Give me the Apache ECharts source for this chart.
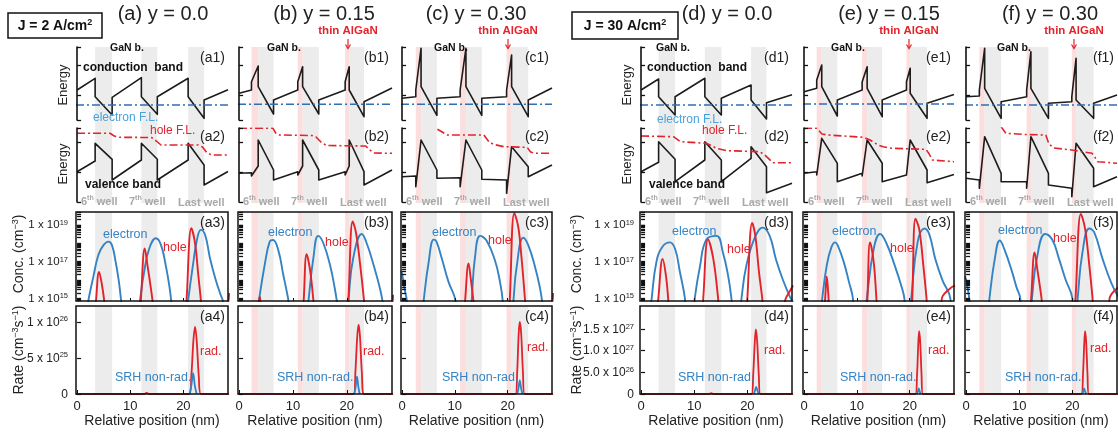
<!DOCTYPE html>
<html><head><meta charset="utf-8">
<script src="https://cdn.jsdelivr.net/npm/echarts@6/dist/echarts.min.js"></script>
<style>html,body{margin:0;padding:0;background:#fff}#c{width:1118px;height:433px}</style>
</head><body><div id="c"></div>
<script>
// ================= DATA =================
const panelIds = ['a','b','c','d','e','f'];
const panelTitles = ['(a) y = 0.0','(b) y = 0.15','(c) y = 0.30','(d) y = 0.0','(e) y = 0.15','(f) y = 0.30'];
const xTicks = [0,10,20];
const concLabelExp = [15,17,19];
const concLabels = ['1 x 10^{15}','1 x 10^{17}','1 x 10^{19}'];
const rateTicksL = [0,5e25,1e26];
const rateLabelsL = ['0','5 x 10^{25}','1 x 10^{26}'];
const rateTicksR = [0,5e26,1e27,1.5e27];
const rateLabelsR = ['0','5.0 x 10^{26}','1.0 x 10^{27}','1.5 x 10^{27}'];
const energyTicks1 = [0,25,55,73];
const energyTicks2 = [0,30,60,74];

// background layers (nm)
const gray_a=[[3.4,6.6],[12.1,15.1],[20.9,23.9]], pink_a=[];
const gray_b=[[3.55,6.4],[11.8,14.8],[20.45,23.2]], pink_b=[[2.3,3.55],[10.9,11.8],[19.7,20.45]];
const gray_c=[[3.6,6.6],[12.1,15.1],[20.75,23.9]], pink_c=[[2.6,3.6],[11.0,12.1],[19.8,20.75]];
const gray_d=[[3.3,6.4],[12.0,15.1],[20.7,23.6]], pink_d=[];
const gray_e=[[3.35,6.3],[11.95,14.8],[20.1,23.3]], pink_e=[[2.4,3.35],[11.0,11.95],[19.4,20.1]];
const gray_f=[[3.5,6.6],[12.2,15.5],[20.7,24.0]], pink_f=[[2.5,3.5],[11.4,12.2],[19.9,20.7]];

// conduction band (a.u.), electron quasi-Fermi level
const cb_a=[[0,30],[3.4,41.7],[3.4,23.3],[6.6,5],[6.6,22.7],[12.1,42.3],[12.1,23.3],[15.1,5.7],[15.1,23.3],[20.9,41.7],[20.9,23.3],[23.9,1.7],[23.9,20],[28.4,30.3]];
const cb_b=[[0,26.7],[2.3,30],[2.3,38.3],[3.55,54],[3.55,33.3],[6.4,6],[6.4,20],[10.9,30],[10.9,38.3],[11.8,53.3],[11.8,33.3],[14.8,6],[14.8,20],[19.7,30],[19.7,38.3],[20.45,53.3],[20.45,30],[23.2,3.3],[23.2,18.3],[28.4,32]];
const cb_c=[[0,21.7],[2.6,23.3],[2.6,30],[3.6,71.7],[3.6,33.3],[6.6,4.7],[6.6,21.7],[11.0,23.3],[11.0,30],[12.1,71.7],[12.1,33.3],[15.1,4.7],[15.1,21.7],[19.8,23.3],[19.8,30],[20.75,65],[20.75,33.3],[23.9,3.3],[23.9,20],[28.4,32]];
const cb_d=[[0,30],[3.3,41],[3.3,23.3],[6.4,5],[6.4,23.3],[12.0,41.7],[12.0,23.3],[15.1,5],[15.1,21.7],[20.7,35],[20.7,20],[23.6,1],[23.6,17.3],[28.4,25.3]];
const cb_e=[[0,28.3],[2.4,31.7],[2.4,40],[3.35,55],[3.35,33.3],[6.3,4],[6.3,20],[11.0,30],[11.0,38],[11.95,53.3],[11.95,31.7],[14.8,3.3],[14.8,20],[19.4,30],[19.4,38.3],[20.1,51.7],[20.1,26.7],[23.3,1.7],[23.3,16.7],[28.4,25.5]];
const cb_f=[[0,23.3],[2.5,24],[2.5,30],[3.5,71.7],[3.5,31.7],[6.6,1.7],[6.6,18.3],[11.4,23.3],[11.4,30],[12.2,68.3],[12.2,31.7],[15.5,1.7],[15.5,16.7],[19.9,18.3],[19.9,23.3],[20.7,61.7],[20.7,20],[24.0,1.7],[24.0,16.7],[28.4,25]];
const efl_a=15, efl_b=15.7, efl_c=15.7, efl_d=15, efl_e=16, efl_f=15;

// valence band (a.u.), hole quasi-Fermi level
const vb_a=[[0,30.3],[3.4,41],[3.4,58.7],[6.6,42.7],[6.6,22],[12.1,42],[12.1,58.7],[15.1,42.7],[15.1,22],[20.9,42],[20.9,58.7],[23.9,37],[23.9,17],[28.4,30.5]];
const vb_b=[[0,28.7],[2.3,29.3],[2.3,26],[3.55,36],[3.55,62],[6.4,32],[6.4,22],[10.9,30.3],[10.9,27],[11.8,36],[11.8,62],[14.8,32],[14.8,22],[19.7,30.3],[19.7,27],[20.45,36],[20.45,62],[23.2,30.3],[23.2,17],[28.4,32]];
const vb_c=[[0,25.3],[2.6,26],[2.6,15.3],[3.6,62],[6.6,32],[6.6,23.7],[11.0,24.3],[11.0,15.3],[12.1,62],[15.1,32],[15.1,22.7],[19.8,22],[19.8,8.7],[20.75,55.3],[23.9,35.3],[23.9,25.3],[28.4,37]];
const vb_d=[[0,30.3],[3.3,39.7],[3.3,60.3],[6.4,42.7],[6.4,20.3],[12.0,42],[12.0,60.3],[15.1,42],[15.1,20.3],[20.7,43.7],[20.7,55.3],[23.6,35.3],[23.6,9.3],[28.4,18.7]];
const vb_e=[[0,28.7],[2.4,30.3],[2.4,27],[3.35,63.7],[6.3,38.7],[6.3,20.3],[11.0,28.7],[11.0,26],[11.95,62],[14.8,38.7],[14.8,20.3],[19.4,27],[19.4,25],[20.1,62],[23.3,32],[23.3,19.3],[28.4,27.5]];
const vb_f=[[0,23.7],[2.5,22],[2.5,13.7],[3.5,65.3],[6.6,28.7],[6.6,20.3],[11.4,20.3],[11.4,13.7],[12.2,65.3],[15.5,28.7],[15.5,17],[19.9,13.7],[19.9,5.3],[20.7,58.7],[24.0,33.7],[24.0,15.3],[28.4,25.3]];
const hfl_a=[[0,68.7],[6.2,68.7],[7.0,66],[8.0,64.7],[14.0,64.5],[14.9,61],[15.8,57],[22.8,57],[23.6,55],[24.4,49.5],[25.3,47],[28.4,47]];
const hfl_b=[[0,73.7],[6.3,73.7],[6.8,69],[7.5,67],[13.5,66.5],[14.3,65],[15.2,60],[16.2,56.5],[23.5,56],[24.3,52],[25.0,49],[28.4,48.7]];
const hfl_c=[[6.7,72.7],[8.6,67],[15.5,67],[16.5,60],[17.4,57.5],[19.3,55.3],[23.7,54.7],[24.3,50.3],[25.0,48.7],[28.4,48.7]];
const hfl_d=[[0,66],[6.1,65.3],[7.4,60.3],[12.3,58.7],[14.2,53.7],[16.1,51.3],[22.3,50.3],[23.3,47],[24.8,39.3],[28.4,39.3]];
const hfl_e=[[0,73.7],[2.4,73.7],[3.4,68],[4.5,67],[11.3,64.7],[12.5,62],[14.0,57],[15.0,55.3],[16.6,53.7],[23.1,52.7],[23.7,48],[24.3,42],[28.4,40.3]];
const hfl_f=[[6.6,75.3],[7.5,68.7],[11.0,67.5],[15.0,67],[15.6,58],[16.5,54],[19.9,52],[23.7,48.7],[24.2,45],[24.8,40.3],[28.4,38.7]];

// carrier concentration, log10(n / cm^-3)
const elec_a=[[2.0,14.5],[2.2,15],[3.06,16.17],[4.0,17.36],[4.97,17.9],[5.92,18.09],[6.56,17.9],[7.2,17.08],[7.83,15.99],[8.28,14.9],[8.4,14.5],[11.7,14.5],[11.85,14.9],[12.6,16.4],[13.57,17.7],[14.84,18.27],[15.8,17.9],[16.75,16.7],[17.4,15.6],[17.7,14.9],[17.8,14.5],[20.8,14.5],[20.9,14.9],[21.85,16.9],[22.5,18.1],[23.3,18.73],[24.1,18.45],[25.0,17.2],[26.0,16.1],[27.0,15.2],[27.4,14.9],[27.5,14.5]];
const hole_a=[[3.5,14.5],[3.57,14.9],[4.14,16.44],[4.65,15.8],[5.1,14.9],[5.2,14.5],[11.9,14.5],[12.0,14.9],[12.74,17.72],[13.25,16.8],[14.2,14.9],[14.3,14.5],[20.5,14.5],[20.6,14.9],[21.5,18.82],[22.2,18.0],[22.8,16.3],[23.3,14.9],[23.4,14.5],[28.0,14.6],[28.6,15.3]];
const elec_b=[[3.6,14.5],[3.7,14.9],[4.8,16.9],[5.7,18.1],[6.3,18.18],[7.3,17.6],[8.2,16.3],[9.1,15.0],[9.3,14.5],[12.8,14.5],[12.9,14.9],[13.8,17.2],[14.7,18.4],[15.65,18.0],[16.9,16.8],[17.8,15.5],[18.3,14.6],[18.4,14.5],[20.2,14.5],[20.3,14.9],[21.2,17.2],[22.8,18.5],[23.7,18.0],[25.0,16.8],[26.2,15.5],[26.8,14.6],[26.9,14.5]];
const hole_b=[[3.5,14.5],[3.85,15.1],[4.2,14.5],[11.9,14.5],[12.0,14.9],[12.55,17.4],[13.2,16.5],[13.8,14.9],[13.9,14.5],[20.2,14.5],[20.3,14.9],[21.1,19.18],[21.7,18.6],[22.5,16.8],[23.2,14.9],[23.3,14.5],[28.0,14.6],[28.6,15.2]];
const elec_c=[[-0.2,16.5],[0,16.35],[0.5,15.5],[0.9,14.9],[1.0,14.5],[4.0,14.5],[4.1,14.9],[5.0,16.9],[6.0,18.2],[6.5,18.1],[7.5,17.2],[8.8,15.9],[10.1,14.9],[10.2,14.5],[13.1,14.5],[13.2,14.9],[13.8,17.2],[14.8,18.4],[16.0,18.15],[17.6,17.06],[18.55,15.9],[19.05,14.9],[19.1,14.5],[21.0,14.5],[21.1,14.9],[21.7,16.7],[22.96,18.3],[23.9,17.9],[25.2,16.7],[26.1,15.6],[26.5,14.9],[26.6,14.5]];
const hole_c=[[11.9,14.5],[11.95,14.9],[12.6,16.9],[13.0,16.1],[13.5,14.9],[13.6,14.5],[20.3,14.5],[20.4,14.9],[21.26,19.64],[22.0,18.9],[22.6,17.3],[23.3,14.9],[23.4,14.5],[28.0,14.6],[28.6,15.3]];
const elec_d=[[1.9,14.5],[2.0,15.0],[2.9,17.0],[4.0,17.8],[5.4,18.05],[6.4,17.7],[7.3,16.45],[8.25,15.0],[8.35,14.5],[10.0,14.5],[10.1,15.0],[11.1,16.77],[12.3,18.2],[14.2,18.4],[15.4,17.5],[16.4,16.2],[17.0,15.0],[17.1,14.5],[18.8,14.5],[18.9,15.0],[19.8,16.77],[21.4,18.3],[22.9,18.85],[24.2,18.4],[25.4,17.1],[26.7,16.0],[28.0,15.1],[28.6,14.8]];
const hole_d=[[3.1,14.5],[3.25,15.0],[4.06,17.14],[4.7,16.2],[5.1,15.0],[5.2,14.5],[11.6,14.5],[11.7,15.0],[12.6,18.21],[13.6,17.14],[14.5,15.0],[14.6,14.5],[19.9,14.5],[20.0,15.0],[20.9,19.1],[21.5,18.4],[22.2,16.4],[22.8,15.0],[22.9,14.5],[26.4,14.6],[27.4,15.1],[28.6,15.7]];
const elec_e=[[3.3,14.5],[3.4,14.9],[4.3,16.8],[5.2,17.8],[5.9,18.05],[6.4,17.87],[7.5,17.0],[8.5,15.9],[9.25,15.0],[9.35,14.5],[11.8,14.5],[11.9,15.0],[13.2,17.7],[14.4,18.5],[15.6,18.0],[17.2,16.77],[18.4,15.7],[19.0,15.0],[19.1,14.5],[20.2,14.5],[20.3,15.0],[21.5,18.05],[22.8,18.8],[23.7,18.5],[24.9,17.1],[26.2,16.0],[27.7,15.0],[27.8,14.5]];
const hole_e=[[3.9,14.5],[4.0,15.0],[4.3,16.2],[4.6,15.2],[4.8,14.5],[11.9,14.5],[12.0,15.0],[12.5,18.05],[13.2,16.95],[13.7,15.0],[13.8,14.5],[20.4,14.5],[20.5,15.0],[21.1,19.33],[21.8,18.78],[22.6,16.77],[23.2,15.0],[23.3,14.5],[26.0,14.6],[26.1,15.0],[27.9,15.6],[28.6,15.7]];
const elec_f=[[-0.2,16.2],[0,16.04],[0.6,15.0],[0.7,14.5],[4.3,14.5],[4.4,15.0],[5.4,17.14],[6.35,18.15],[7.3,17.6],[8.6,16.5],[9.5,15.6],[10.2,15.0],[10.3,14.5],[12.3,14.5],[12.4,15.0],[13.3,17.14],[14.9,18.5],[16.2,18.2],[17.5,17.14],[18.7,16.04],[20.0,15.0],[20.1,14.5],[20.9,14.5],[21.0,15.0],[21.9,17.5],[23.2,18.8],[24.1,18.6],[25.7,17.14],[27.3,15.86],[28.6,15.1]];
const hole_f=[[12.1,14.5],[12.25,15.0],[12.9,17.5],[13.5,16.4],[14.2,15.0],[14.3,14.5],[20.5,14.5],[20.6,15.0],[21.6,19.6],[22.4,18.78],[23.2,16.77],[23.8,15.0],[23.9,14.5],[26.9,14.5],[27.0,15.0],[28.6,15.6]];

// recombination rates (cm^-3 s^-1)
const rad_a=[[-0.2,0],[12.6,0],[13.1,0.15e25],[13.6,0],[21.1,0],[21.5,2.5e25],[21.9,7.5e25],[22.2,9.35e25],[22.5,7.5e25],[22.9,2.5e25],[23.3,0],[28.6,0]];
const srh_a=[[21.2,0],[21.5,1.2e25],[21.85,2.9e25],[22.15,1.2e25],[22.5,0]];
const rad_b=[[-0.2,0],[21.3,0],[21.6,3e25],[21.95,8e25],[22.2,9.6e25],[22.45,8e25],[22.8,3e25],[23.2,0],[28.6,0]];
const srh_b=[[21.4,0],[21.65,1e25],[21.9,2.4e25],[22.15,1e25],[22.4,0]];
const rad_c=[[-0.2,0],[21.5,0],[21.8,3e25],[22.1,8.5e25],[22.3,1.0e26],[22.55,8.5e25],[22.9,3e25],[23.2,0],[28.6,0]];
const srh_c=[[21.8,0],[22.05,0.8e25],[22.3,1.9e25],[22.55,0.8e25],[22.8,0]];
const rad_d=[[-0.2,0],[12.8,0],[13.2,0.02e27],[13.6,0],[20.8,0],[21.1,0.45e27],[21.4,1.2e27],[21.6,1.49e27],[21.85,1.2e27],[22.15,0.45e27],[22.45,0],[28.6,0]];
const srh_d=[[21.2,0],[21.45,0.08e27],[21.65,0.166e27],[21.9,0.08e27],[22.15,0]];
const rad_e=[[-0.2,0],[21.1,0],[21.4,0.45e27],[21.65,1.2e27],[21.8,1.45e27],[22.0,1.2e27],[22.25,0.45e27],[22.5,0],[28.6,0]];
const srh_e=[[21.35,0],[21.55,0.06e27],[21.7,0.13e27],[21.9,0.06e27],[22.1,0]];
const rad_f=[[-0.2,0],[21.7,0],[22.0,0.45e27],[22.25,1.2e27],[22.4,1.45e27],[22.6,1.2e27],[22.85,0.45e27],[23.1,0],[28.6,0]];
const srh_f=[[21.85,0],[22.05,0.06e27],[22.2,0.13e27],[22.4,0.06e27],[22.6,0]];

// ================= LAYOUT / STYLE =================
const FONT = "'Liberation Sans', Arial, Helvetica, sans-serif";
const GRAY = '#ececec', PINK = '#fbdede';
const BLACK = '#1c1c1c', BLUE = '#3583c4', RED = '#e3232b', FLBLUE = '#2f6fb3', LBLUE = '#4aa3dc', WELLGRAY = '#a8a8a8';
const xMin = -0.2, xMax = 28.4;
const gridLeft = [76,238,401,640,803,965];
const gridW = [152,154,151,152,151,152];
const R = {bg:[47,156], r1:[47,73], r2:[128,74], r3:[212,89], r4:[306,88]};
const concMin = 14.86, concMax = 19.7;
const rateMaxL = 1.22e26, rateMaxR = 2.03e27;

const GRAYS=[gray_a,gray_b,gray_c,gray_d,gray_e,gray_f];
const PINKS=[pink_a,pink_b,pink_c,pink_d,pink_e,pink_f];
const CBS=[cb_a,cb_b,cb_c,cb_d,cb_e,cb_f];
const EFLS=[efl_a,efl_b,efl_c,efl_d,efl_e,efl_f];
const VBS=[vb_a,vb_b,vb_c,vb_d,vb_e,vb_f];
const HFLS=[hfl_a,hfl_b,hfl_c,hfl_d,hfl_e,hfl_f];
const ELECS=[elec_a,elec_b,elec_c,elec_d,elec_e,elec_f];
const HOLES=[hole_a,hole_b,hole_c,hole_d,hole_e,hole_f];
const RADS=[rad_a,rad_b,rad_c,rad_d,rad_e,rad_f];
const SRHS=[srh_a,srh_b,srh_c,srh_d,srh_e,srh_f];

function richify(s){ return '{n|' + s.replace(/\^\{([^}]*)\}/g, '}{s|$1}{n|') + '}'; }
function richStyles(fs, sfs, color, weight){
  const lh = Math.round(fs*1.05);
  return { n:{fontSize:fs, fontFamily:FONT, color:color, fill:color, fontWeight:weight||'normal', verticalAlign:'bottom', lineHeight:lh},
           s:{fontSize:sfs, fontFamily:FONT, color:color, fill:color, fontWeight:weight||'normal', verticalAlign:'top', lineHeight:lh} };
}

const option = {animation:false, backgroundColor:'#fff', grid:[], xAxis:[], yAxis:[], series:[], graphic:[]};

function addGrid(i, row, opts){
  const idx = option.grid.length;
  option.grid.push(Object.assign({left:gridLeft[i], width:gridW[i], top:R[row][0], height:R[row][1], containLabel:false}, opts.grid||{}));
  option.xAxis.push(Object.assign({type:'value', gridIndex:idx, min:xMin, max:xMax, show:true, z:11,
    axisLine:{show:false}, axisTick:{show:false}, axisLabel:{show:false}, splitLine:{show:false}}, opts.x||{}));
  option.yAxis.push(Object.assign({type:'value', gridIndex:idx, show:true, z:11,
    axisLine:{show:false}, axisTick:{show:false}, axisLabel:{show:false}, splitLine:{show:false}}, opts.y||{}));
  return idx;
}
function bandSeries(idx, gray, pink){
  const data = [];
  gray.forEach(b => data.push([{xAxis:b[0], itemStyle:{color:GRAY}}, {xAxis:b[1]}]));
  pink.forEach(b => data.push([{xAxis:b[0], itemStyle:{color:PINK}}, {xAxis:b[1]}]));
  option.series.push({type:'line', xAxisIndex:idx, yAxisIndex:idx, data:[], z:1, silent:true, symbol:'none',
    markArea:{silent:true, label:{show:false}, data:data}});
}
function lineSeries(idx, data, color, width, dash, smooth){
  option.series.push({type:'line', xAxisIndex:idx, yAxisIndex:idx, data:data, z:3, silent:true,
    symbol:'none', showSymbol:false, smooth:smooth||false, clip:true,
    lineStyle:{color:color, width:width, type:dash||'solid', join:'round'}});
}

const minorLog = [];
for (let e=14; e<=19; e++) for (let k=1; k<=9; k++){ const v=e+Math.log10(k); if(v>=concMin && v<=concMax) minorLog.push(v); }

const frame = {show:true, borderColor:'#111', borderWidth:1.5, backgroundColor:'rgba(0,0,0,0)', z:10};
const axLine = {show:true, lineStyle:{color:'#111', width:1.6}};

for (let i=0; i<6; i++){
  const labelled = (i===0 || i===3);
  const gbg = addGrid(i,'bg',{x:{show:false}, y:{show:false, min:0, max:1}});
  bandSeries(gbg, GRAYS[i], PINKS[i]);
  const g1 = addGrid(i,'r1',{x:{show:false}, y:{min:0, max:73, axisLine:axLine,
    axisTick:{show:true, inside:true, length:4, customValues:energyTicks1, lineStyle:{color:'#111', width:1.3}}}});
  lineSeries(g1, CBS[i], BLACK, 1.6);
  lineSeries(g1, [[xMin, EFLS[i]],[xMax, EFLS[i]]], FLBLUE, 1.6, [8,3,2,3]);
  const g2 = addGrid(i,'r2',{x:{show:false}, y:{min:0, max:74, axisLine:axLine,
    axisTick:{show:true, inside:true, length:4, customValues:energyTicks2, lineStyle:{color:'#111', width:1.3}}}});
  lineSeries(g2, VBS[i], BLACK, 1.6);
  lineSeries(g2, HFLS[i], RED, 1.6, [8,3,2,3]);
  const g3 = addGrid(i,'r3',{grid:frame,
    x:{axisTick:{show:true, inside:true, length:3, customValues:xTicks, lineStyle:{color:'#111'}}},
    y:{min:concMin, max:concMax,
      axisTick:{show:true, inside:true, length:4, customValues:minorLog, lineStyle:{color:'#111', width:1.3}},
      axisLabel:{show:labelled, customValues:concLabelExp, margin:i===3?6:8,
        formatter:(v)=>{ const k=concLabelExp.findIndex(t=>Math.abs(t-v)<1e-6); return k<0?'':richify(concLabels[k]); },
        rich:richStyles(11.5,7.5,'#222')}}});
  bandSeries(g3, GRAYS[i], PINKS[i]);
  lineSeries(g3, ELECS[i], BLUE, 1.9, 'solid', 0.45);
  lineSeries(g3, HOLES[i], RED, 1.9, 'solid', 0.4);
  const left = i<3;
  const rt = left ? rateTicksL : rateTicksR, rl = left ? rateLabelsL : rateLabelsR;
  const g4 = addGrid(i,'r4',{grid:frame,
    x:{axisTick:{show:true, inside:true, length:4, customValues:xTicks, lineStyle:{color:'#111'}},
       axisLabel:{show:true, customValues:xTicks, fontSize:13, fontFamily:FONT, color:'#222', margin:6}},
    y:{min:0, max:left?rateMaxL:rateMaxR,
      axisTick:{show:true, inside:true, length:4, customValues:rt, lineStyle:{color:'#111', width:1.2}},
      axisLabel:{show:labelled, customValues:rt, margin:i===3?6:8,
        formatter:(v)=>{ const k=rt.findIndex(t=>Math.abs(t-v)<=1e-6*Math.max(1,t)); return k<0?'':richify(rl[k]); },
        rich:richStyles(12,7.5,'#222')}}});
  bandSeries(g4, GRAYS[i], PINKS[i]);
  lineSeries(g4, RADS[i], RED, 1.8, 'solid', 0.35);
  lineSeries(g4, SRHS[i], BLUE, 1.8, 'solid', 0.35);
}

// ================= TEXT =================
function T(x, y, text, o){
  o = o||{};
  const st = {text:text, fill:o.color||'#222', font:(o.weight||'normal')+' '+(o.size||12)+'px '+FONT,
    align:o.align||'left', verticalAlign:'middle', textAlign:o.align||'left', textVerticalAlign:'middle'};
  if (o.rich) st.rich = o.rich;
  option.graphic.push({type:'text', x:x, y:y, rotation:o.rot||0, z:100, silent:true, style:st});
}
function box(x,y,w,h){ option.graphic.push({type:'rect', z:100, silent:true, shape:{x:x,y:y,width:w,height:h}, style:{fill:'none', stroke:'#111', lineWidth:1.5}}); }
function arrow(cx){
  option.graphic.push({type:'line', z:100, silent:true, shape:{x1:cx,y1:39,x2:cx,y2:48}, style:{stroke:RED, lineWidth:1.2}});
  option.graphic.push({type:'polyline', z:100, silent:true, shape:{points:[[cx-2.5,44.5],[cx,48.5],[cx+2.5,44.5]]}, style:{stroke:RED, fill:'none', lineWidth:1.2}});
}

box(8,13,94,25); T(55,26,richify('J = 2 A/cm^{2}'),{align:'center', rich:richStyles(14,9,'#111','bold')});
box(572,12,106,27); T(625,26,richify('J = 30 A/cm^{2}'),{align:'center', rich:richStyles(14,9,'#111','bold')});

const titleX=[163,324,476,727,889,1050];
const algX=[null,348,508,null,909,1074];
const ganX=[127,284,451,673,848,1014];
for (let i=0;i<6;i++){
  T(titleX[i],14,panelTitles[i],{align:'center', size:20, color:'#222'});
  if (algX[i]){ T(algX[i],31,'thin AlGaN',{align:'center', size:11.5, weight:'bold', color:RED}); arrow(algX[i]); }
  T(ganX[i],48,'GaN b.',{align:'center', size:10.5, weight:'bold', color:'#111'});
  const rx = gridLeft[i]+gridW[i]-3, id = panelIds[i];
  T(rx,58,'('+id+'1)',{align:'right', size:14});
  T(rx,137,'('+id+'2)',{align:'right', size:14});
  T(rx,223,'('+id+'3)',{align:'right', size:14});
  T(rx,317,'('+id+'4)',{align:'right', size:14});
  const L = gridLeft[i];
  const wr = richStyles(11,7,WELLGRAY,'bold');
  T(L+5,201,richify('6^{th} well'),{rich:wr});
  T(L+53,201,richify('7^{th} well'),{rich:wr});
  T(L+102,203,'Last well',{size:11, weight:'bold', color:WELLGRAY});
  T(L+gridW[i]/2,421,'Relative position (nm)',{align:'center', size:14});
}
[[0,63],[3,627]].forEach(([i,ex])=>{
  const L = gridLeft[i];
  T(ex,85,'Energy',{align:'center', size:13, rot:Math.PI/2});
  T(ex,164,'Energy',{align:'center', size:13, rot:Math.PI/2});
  T(L+7,68,'conduction  band',{size:12, weight:'bold', color:'#111'});
  T(L+17,118+(i?2:0),'electron F.L.',{size:12, color:LBLUE});
  T(L+74-(i?12:0),131,'hole F.L.',{size:12, color:RED});
  T(L+9,185,'valence band',{size:12, weight:'bold', color:'#111'});
});
const elecLbl=[[103,235],[268,233],[432,233],[672,232],[832,232],[998,231]];
const holeLbl=[[163,248],[325,243],[488,241],[727,250],[890,249],[1053,239]];
const radLbl=[[200,352],[363,352],[527,348],[764,351],[928,351],[1090,349]];
const srhLbl=[[115,378],[277,378],[442,378],[678,378],[840,378],[1005,378]];
for (let i=0;i<6;i++){
  T(elecLbl[i][0],elecLbl[i][1],'electron',{size:12.5, color:BLUE});
  T(holeLbl[i][0],holeLbl[i][1],'hole',{size:12.5, color:RED});
  T(radLbl[i][0],radLbl[i][1],'rad.',{size:12.5, color:RED});
  T(srhLbl[i][0],srhLbl[i][1],'SRH non-rad.',{size:12.5, color:BLUE});
}
[19,577].forEach(x=>{
  T(x,254,richify('Conc. (cm^{−3})'),{align:'center', rot:Math.PI/2, rich:richStyles(14,9,'#222')});
  T(x,350,richify('Rate (cm^{−3}s^{−1})'),{align:'center', rot:Math.PI/2, rich:richStyles(14,9,'#222')});
});

const chart = echarts.init(document.getElementById('c'), null, {renderer:'canvas'});
chart.setOption(option);
</script></body></html>
